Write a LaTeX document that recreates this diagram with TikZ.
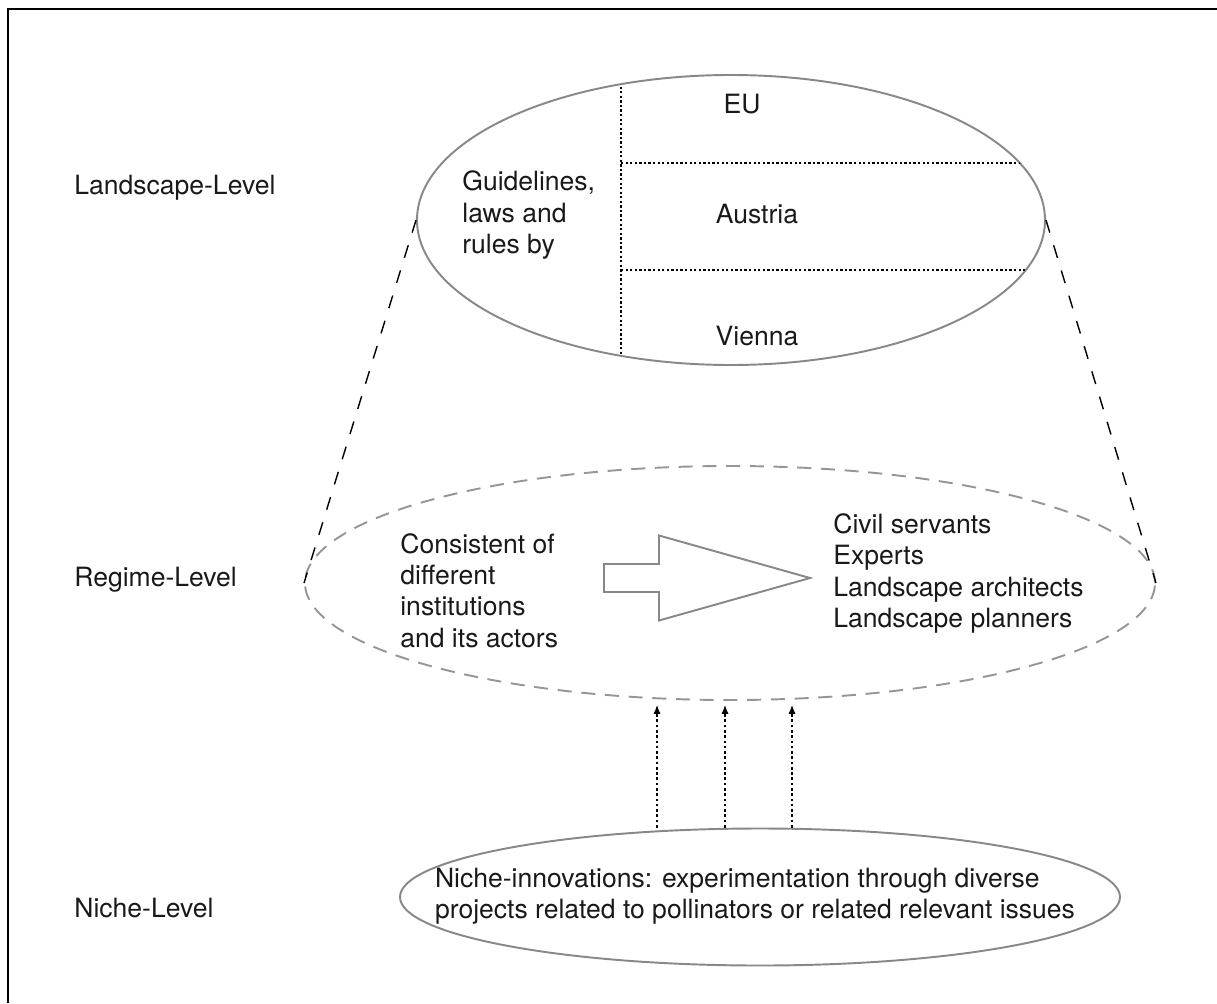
\documentclass[tikz,border=0pt]{standalone}
\usepackage{fontspec}
\setmainfont{TeX Gyre Heros}
\usetikzlibrary{arrows.meta, positioning, shapes.geometric}

\definecolor{ringgray}{RGB}{135,135,140}
\definecolor{dashgray}{RGB}{150,150,150}

\begin{document}
\begin{tikzpicture}[
            >=Latex,
            every node/.style={font=\fontsize{15.1}{17.9}\selectfont, text=black!90, inner sep=0pt},
            level/.style={anchor=west},
            ring/.style={ellipse, draw=ringgray, line width=1.1pt},
            regimering/.style={ellipse, draw=dashgray, line width=1.1pt, dash pattern=on 8pt off 5.5pt},
            cone/.style={line width=0.8pt, dash pattern=on 7.5pt off 7.5pt},
            divider/.style={line width=0.6pt, dash pattern=on 1.3pt off 1.3pt},
            nichearrow/.style={-{Latex[length=5pt,width=4pt]}, line width=0.7pt, dash pattern=on 1.5pt off 1.5pt, shorten >=0.08cm}
        ]
            \useasboundingbox (0,0) rectangle (24.34,-20.06);
            \draw[line width=1.1pt] (0.16,-20.06) -- (0.16,-0.18) -- (24.34,-0.18);

            \node (top) [ring, minimum width=12.56cm, minimum height=5.8cm] at (14.62,-4.4) {};
            \node (regime) [regimering, minimum width=17cm, minimum height=4.68cm] at (14.6,-11.66) {};
            \node (niche) [ring, minimum width=14.4cm, minimum height=2.74cm] at (15.2,-17.94) {};

            \node (landscape) [level] at (1.48,-3.76) {Landscape-Level};
            \node (regimelbl) [level] at (1.48,-11.6) {Regime-Level};
            \node (nichelbl) [level] at (1.48,-18.16) {Niche-Level};

            \node (rules) [anchor=west, align=left] at (9.24,-4.3) {Guidelines,\\laws and\\rules by};
            \node (eu) at (14.84,-2.08) {EU};
            \node (austria) at (15.14,-4.28) {Austria};
            \node (vienna) at (15.14,-6.72) {Vienna};

            \node (institutions) [anchor=west, align=left] at (8.0,-11.81) {Consistent of\\different\\institutions\\and its actors};
            \node (actors) [anchor=west, align=left] at (16.66,-11.47) {Civil servants\\Experts\\Landscape architects\\Landscape planners};
            \node (nichetext) [align=left] at (15.1,-17.92) {Niche-innovations: experimentation through diverse\\projects related to pollinators or related relevant issues};

            \begin{scope}
                \clip (top.center) ellipse (6.28 and 2.9);
                \draw[divider] (12.42,-1) -- (12.42,-8);
                \draw[divider] (12.42,-3.26) -- (22,-3.26);
                \draw[divider] (12.42,-5.4) -- (22,-5.4);
            \end{scope}

            \draw[cone] (top.west) -- (regime.west);
            \draw[cone] (top.east) -- (regime.east);

            \draw[ringgray, line width=1.1pt] (12.08,-11.28) -- (13.18,-11.28) -- (13.18,-10.71) -- (16.2,-11.56) -- (13.18,-12.41) -- (13.18,-11.84) -- (12.08,-11.84) -- cycle;

            \foreach \x in {13.14, 14.5, 15.84}
                \draw[nichearrow] (niche.north -| \x,0) -- (regime.south -| \x,0);
        \end{tikzpicture}
\end{document}
